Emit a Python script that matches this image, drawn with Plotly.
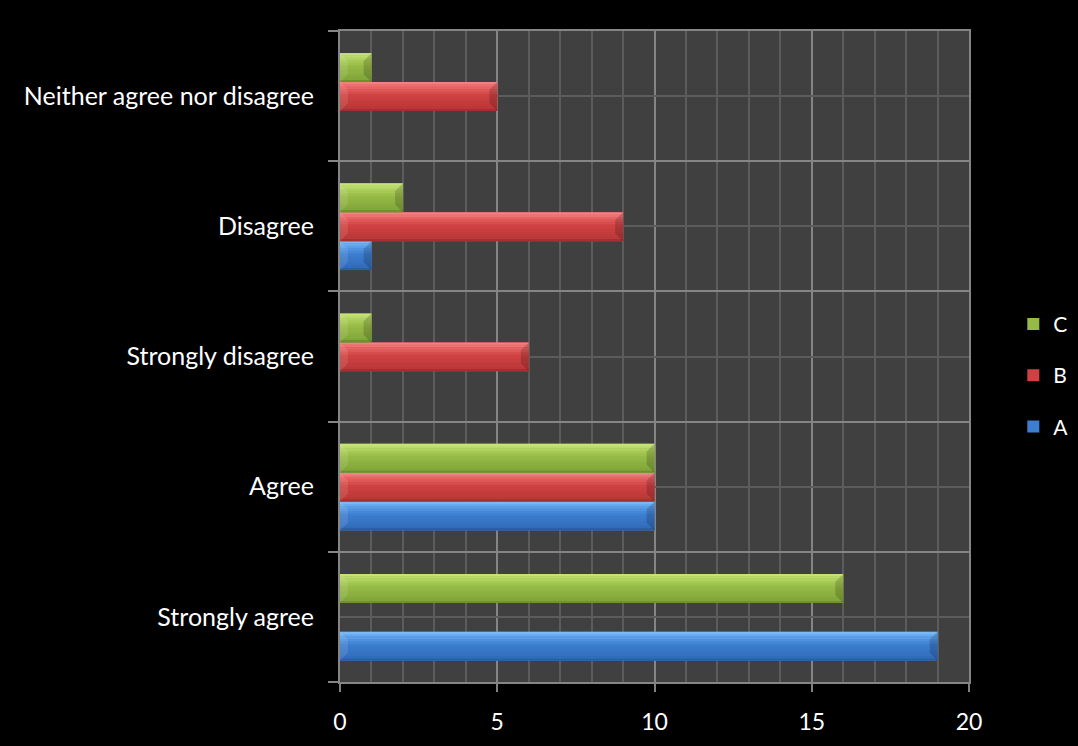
import plotly.graph_objects as go

# Survey responses, bottom to top on the category axis
categories = ["Strongly agree", "Agree", "Strongly disagree", "Disagree",
              "Neither agree nor disagree"]
series_names = ["A", "B", "C"]
values_a = [19, 10, 0, 1, 0]
values_b = [0, 10, 6, 9, 5]
values_c = [16, 10, 1, 2, 1]
x_ticks = [0, 5, 10, 15, 20]

series_values = [values_a, values_b, values_c]
# gradient stops (bottom -> top) used to shade each bar like a bevel
stops = {
    "A": [(0.0, (40, 86, 150)), (0.12, (50, 108, 184)), (0.55, (60, 126, 208)),
          (0.80, (92, 158, 232)), (0.93, (112, 178, 242)), (1.0, (132, 192, 246))],
    "B": [(0.0, (150, 44, 44)), (0.12, (186, 56, 56)), (0.55, (208, 66, 66)),
          (0.80, (230, 100, 100)), (0.93, (240, 122, 122)), (1.0, (246, 142, 142))],
    "C": [(0.0, (100, 134, 42)), (0.12, (130, 166, 58)), (0.55, (150, 186, 70)),
          (0.80, (176, 210, 96)), (0.93, (192, 222, 112)), (1.0, (206, 230, 130))],
}
main_color = {"A": "#3c7ed0", "B": "#d04242", "C": "#96ba46"}
legend_rank = {"A": 3, "B": 2, "C": 1}
n_strips = 12
bar_w = 0.222
offsets = {"A": -0.336, "B": -0.114, "C": 0.108}
cap_dx = 0.25    # bevel depth at the bar ends, in value units
cap_dy = 0.06    # bevel depth along the category axis


def shade_at(name, f):
    pts = stops[name]
    for (f0, c0), (f1, c1) in zip(pts[:-1], pts[1:]):
        if f0 <= f <= f1:
            t = (f - f0) / (f1 - f0)
            r, g, b = (round(a + (bb - a) * t) for a, bb in zip(c0, c1))
            return f"rgb({r},{g},{b})"
    r, g, b = pts[-1][1]
    return f"rgb({r},{g},{b})"


ypos = list(range(len(categories)))
fig = go.Figure()
for name, vals in zip(series_names, series_values):
    o = offsets[name]
    # base bar carries the legend entry
    fig.add_trace(go.Bar(
        x=vals, y=ypos, orientation="h", name=name,
        width=bar_w, offset=o,
        marker=dict(color=main_color[name], line=dict(width=0)),
        legendgroup=name, legendrank=legend_rank[name], hoverinfo="x+name",
    ))
    step = 1.0 / n_strips
    for i in range(n_strips):
        f0 = i * step
        fig.add_trace(go.Bar(
            x=vals, y=ypos, orientation="h", name=name,
            width=bar_w * step * 1.02, offset=o + bar_w * f0,
            marker=dict(color=shade_at(name, f0 + step / 2), line=dict(width=0)),
            legendgroup=name, legendrank=legend_rank[name],
            showlegend=False, hoverinfo="skip",
        ))

    # bevelled end caps, derived from each bar's value and slot
    rx, ry, lx, ly = [], [], [], []
    for yc, v in zip(ypos, vals):
        if v <= 0:
            continue
        bot, top = yc + o, yc + o + bar_w
        rx += [v, v, v - cap_dx, v - cap_dx, v, None]
        ry += [bot, top, top - cap_dy, bot + cap_dy, bot, None]
        lx += [0, 0, cap_dx, cap_dx, 0, None]
        ly += [bot, top, top - cap_dy, bot + cap_dy, bot, None]
    fig.add_trace(go.Scatter(
        x=rx, y=ry, mode="lines", fill="toself", line=dict(width=0),
        fillcolor="rgba(0,0,0,0.16)", legendgroup=name,
        legendrank=legend_rank[name], showlegend=False, hoverinfo="skip",
    ))
    fig.add_trace(go.Scatter(
        x=lx, y=ly, mode="lines", fill="toself", line=dict(width=0),
        fillcolor="rgba(255,255,255,0.10)", legendgroup=name,
        legendrank=legend_rank[name], showlegend=False, hoverinfo="skip",
    ))

font_family = "Lato, 'Open Sans', sans-serif"
fig.update_layout(
    width=1078, height=746,
    barmode="overlay",
    paper_bgcolor="#000000",
    plot_bgcolor="#404040",
    margin=dict(l=340, r=109, t=31, b=64, autoexpand=False),
    font=dict(family=font_family, color="#ffffff", size=21),
    showlegend=True,
    legend=dict(
        xref="container", x=0.940, xanchor="left",
        yref="container", y=0.497, yanchor="middle",
        traceorder="grouped", tracegroupgap=21,
        font=dict(size=21, color="#ffffff"),
        bgcolor="rgba(0,0,0,0)", itemwidth=30,
    ),
    xaxis=dict(
        range=[0, 20], tickvals=x_ticks, ticks="outside", ticklen=8,
        tickcolor="#808080", tickwidth=2,
        showgrid=True, gridcolor="#858585", gridwidth=2,
        minor=dict(dtick=1, showgrid=True, gridcolor="#5c5c5c", gridwidth=2),
        showline=True, linecolor="#858585", linewidth=2, mirror=True,
        zeroline=False, ticklabelstandoff=10,
        tickfont=dict(size=23),
    ),
    yaxis=dict(
        range=[-0.5, 4.5], tickvals=ypos, ticktext=categories,
        ticks="", showgrid=True, gridcolor="#5c5c5c", gridwidth=2,
        minor=dict(tickvals=[-0.5, 0.5, 1.5, 2.5, 3.5, 4.5], ticks="outside",
                   ticklen=10, tickcolor="#858585", tickwidth=2,
                   showgrid=True, gridcolor="#858585", gridwidth=2),
        showline=True, linecolor="#858585", linewidth=2, mirror=True,
        zeroline=False, ticklabelstandoff=19,
        tickfont=dict(size=25),
    ),
)

fig.write_html("out.html")
